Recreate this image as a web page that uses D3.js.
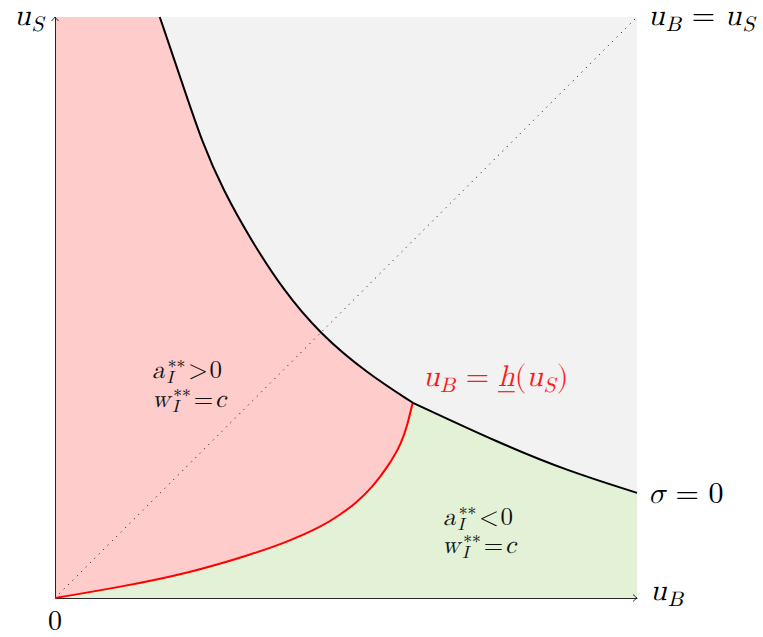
<!DOCTYPE html>
<html><head><meta charset="utf-8">
<script src="https://cdn.jsdelivr.net/npm/d3@7"></script>
<style>body{margin:0;background:#fff}svg{display:block}</style>
</head><body>
<script>
// sigma = 0 frontier (black curve); index 8 is where it meets the red curve
const sigmaUB = [0.180, 0.220, 0.254, 0.289, 0.335, 0.392, 0.455, 0.536, 0.615, 0.765, 0.880, 1.000];
const sigmaUS = [1.000, 0.882, 0.781, 0.702, 0.619, 0.530, 0.455, 0.387, 0.336, 0.266, 0.219, 0.181];
// u_B = h(u_S) (red curve)
const hUB = [0, 0.1146, 0.229, 0.3436, 0.400, 0.4582, 0.489, 0.517, 0.546, 0.572, 0.5956, 0.6065, 0.6129, 0.615];
const hUS = [0, 0.0194, 0.0425, 0.0769, 0.0969, 0.1228, 0.1429, 0.1630, 0.1916, 0.2260, 0.2662, 0.3012, 0.3300, 0.336];
// 45 degree line
const diagUB = [0, 1];
const diagUS = [0, 1];

const W = 763, H = 637;
const svg = d3.select('body').append('svg').attr('width', W).attr('height', H);
const x = d3.scaleLinear().domain([0, 1]).range([55, 637]);
const y = d3.scaleLinear().domain([0, 1]).range([598, 17]);

const sigmaPts = sigmaUB.map((v, i) => [v, sigmaUS[i]]);
const hPts = hUB.map((v, i) => [v, hUS[i]]);
const diagPts = diagUB.map((v, i) => [v, diagUS[i]]);
const sigA = sigmaPts.slice(0, 9), sigB = sigmaPts.slice(8);

const line = d3.line().x(d => x(d[0])).y(d => y(d[1])).curve(d3.curveBasis);
const straight = d3.line().x(d => x(d[0])).y(d => y(d[1]));
const cont = s => s.replace(/^M/, 'L');

// pick an installed serif font if there is one
const ctx = document.createElement('canvas').getContext('2d');
function has(f) {
  const probe = 'mwiulσ0=()';
  for (const fb of ['monospace', 'sans-serif']) {
    ctx.font = `40px ${fb}`; const w0 = ctx.measureText(probe).width;
    ctx.font = `40px "${f}", ${fb}`; const w1 = ctx.measureText(probe).width;
    if (Math.abs(w1 - w0) < 0.01) return false;
  }
  return true;
}
const serifs = ['Latin Modern Math', 'Latin Modern Roman', 'CMU Serif', 'Liberation Serif', 'DejaVu Serif', 'Noto Serif', 'Times New Roman', 'Nimbus Roman', 'FreeSerif', 'Tinos'];
const found = serifs.find(has);
const FONT = found ? `"${found}", serif` : 'serif';

// grey background region
svg.append('path')
  .attr('d', straight([[0, 0], [1, 0], [1, 1], [0, 1]]) + 'Z')
  .attr('fill', '#f2f2f2');

// red region
svg.append('path')
  .attr('d', straight([[0, 0], [0, 1]]) + cont(line(sigA)) + cont(line(hPts.slice().reverse())) + 'Z')
  .attr('fill', '#ffcccc');

// green region
svg.append('path')
  .attr('d', line(hPts) + cont(line(sigB)) + cont(straight([[1, sigmaUS[sigmaUS.length - 1]], [1, 0], [0, 0]])) + 'Z')
  .attr('fill', '#e3f1d7');

// dotted diagonal
svg.append('path').attr('d', straight(diagPts))
  .attr('fill', 'none').attr('stroke', '#000').attr('stroke-width', 1)
  .attr('stroke-dasharray', '1 5.2');

// axes
svg.append('g').attr('transform', `translate(0,${y(0)})`)
  .call(d3.axisBottom(x).tickValues([]).tickSizeOuter(0));
svg.append('g').attr('transform', `translate(${x(0)},0)`)
  .call(d3.axisLeft(y).tickValues([]).tickSizeOuter(0));
svg.selectAll('.domain').attr('stroke', '#111').attr('stroke-width', 0.9);
// arrow heads
svg.append('path').attr('d', `M${x(1) - 4},${y(0) - 3.5} Q${x(1) - 1.5},${y(0) - 1} ${x(1)},${y(0)} Q${x(1) - 1.5},${y(0) + 1} ${x(1) - 4},${y(0) + 3.5}`)
  .attr('fill', 'none').attr('stroke', '#111').attr('stroke-width', 0.9);
svg.append('path').attr('d', `M${x(0) - 3.5},${y(1) + 4} Q${x(0) - 1},${y(1) + 1.5} ${x(0)},${y(1)} Q${x(0) + 1},${y(1) + 1.5} ${x(0) + 3.5},${y(1) + 4}`)
  .attr('fill', 'none').attr('stroke', '#111').attr('stroke-width', 0.9);

// curves
svg.append('path').attr('d', line(hPts)).attr('fill', 'none').attr('stroke', '#ff0000').attr('stroke-width', 2);
svg.append('path').attr('d', line(sigA) + line(sigB)).attr('fill', 'none').attr('stroke', '#000').attr('stroke-width', 2);

// math label builder
function math(px, py, parts, fs, color, anchor, gap) {
  gap = gap || 0;
  const g = svg.append('g').attr('fill', color);
  let cx = 0;
  const put = (str, xx, yy, size, it) => g.append('text').attr('x', xx).attr('y', yy)
    .style('font-family', FONT).style('font-size', size + 'px')
    .style('font-style', it ? 'italic' : 'normal').text(str);
  parts.forEach((p, k) => {
    if (p.sp !== undefined) { cx += p.sp * fs; return; }
    if (p.t !== undefined) {
      const t = put(p.t, cx, 0, fs, p.i);
      const w = t.node().getComputedTextLength();
      if (p.u) g.append('rect').attr('x', cx).attr('y', 0.17 * fs).attr('width', w).attr('height', 1.2);
      cx += w;
    } else {
      const s = fs * 0.7;
      let w1 = 0, w2 = 0;
      const sdx = p.supdx || 0;
      if (p.sup !== undefined) { const t = put(p.sup, cx + sdx * fs, -0.22 * fs, s, false); w1 = t.node().getComputedTextLength() + sdx * fs; }
      if (p.sub !== undefined) { const t = put(p.sub, cx + 0.02 * fs, (p.subdy || 0.2) * fs, s, true); w2 = t.node().getComputedTextLength() + 0.02 * fs; }
      cx += Math.max(w1, w2) + 0.05 * fs;
    }
    if (k < parts.length - 1) cx += gap * fs;
  });
  const off = anchor === 'middle' ? cx / 2 : anchor === 'end' ? cx : 0;
  g.attr('transform', `translate(${px - off},${py})`);
}
const TH = 0.3;
const FS = 30;
math(45, 25, [{ t: 'u', i: 1 }, { sub: 'S' }], FS, '#000', 'end', 0.02);
math(648, 25, [{ t: 'u', i: 1 }, { sub: 'B' }, { sp: TH }, { t: '=' }, { sp: TH }, { t: 'u', i: 1 }, { sub: 'S' }], FS, '#000', 'start', 0.02);
math(648, 503, [{ t: 'σ', i: 1 }, { sp: TH }, { t: '=' }, { sp: TH }, { t: '0' }], FS, '#000', 'start', 0.02);
math(650, 600, [{ t: 'u', i: 1 }, { sub: 'B' }], FS, '#000', 'start', 0.02);
math(55, 630, [{ t: '0' }], 28, '#000', 'middle');
math(423, 386, [{ t: 'u', i: 1 }, { sub: 'B' }, { sp: TH }, { t: '=' }, { sp: TH }, { t: 'h', i: 1, u: 1 }, { t: '(' }, { t: 'u', i: 1 }, { sub: 'S' }, { t: ')' }], FS, '#ff1a1a', 'start', 0);

const RS = 25;
math(187, 378, [{ t: 'a', i: 1 }, { sup: '**', sub: 'I', supdx: 0.06 }, { t: '>' }, { t: '0' }], RS, '#111', 'middle', 0.07);
math(189, 407, [{ t: 'w', i: 1 }, { sup: '**', sub: 'I', supdx: 0.06 }, { t: '=' }, { t: 'c', i: 1 }], RS, '#111', 'middle', 0.07);
math(478, 525, [{ t: 'a', i: 1 }, { sup: '**', sub: 'I', supdx: 0.06 }, { t: '<' }, { t: '0' }], RS, '#111', 'middle', 0.07);
math(479, 553, [{ t: 'w', i: 1 }, { sup: '**', sub: 'I', supdx: 0.06 }, { t: '=' }, { t: 'c', i: 1 }], RS, '#111', 'middle', 0.07);
</script>
</body></html>
